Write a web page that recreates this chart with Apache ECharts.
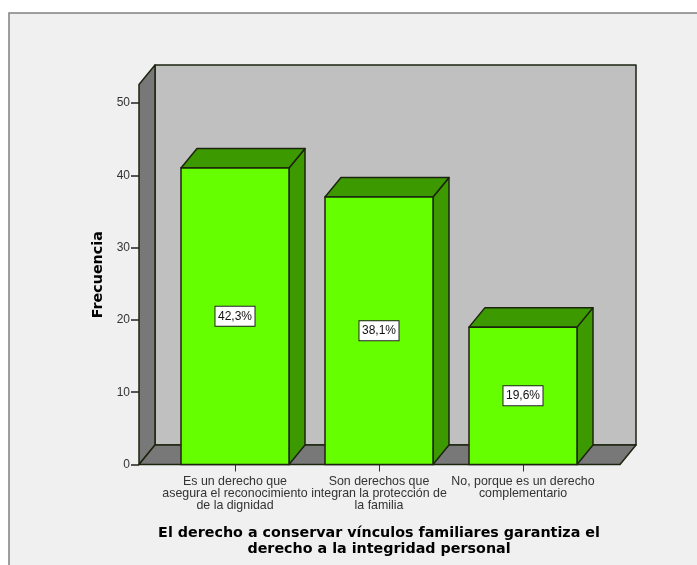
<!DOCTYPE html>
<html><head><meta charset="utf-8">
<style>html,body{margin:0;padding:0;background:#fff}#c{width:697px;height:565px}</style>
<script src="https://cdn.jsdelivr.net/npm/echarts@6/dist/echarts.min.js"></script>
</head><body><div id="c"></div>
<script>
const categories = ['Es un derecho que\nasegura el reconocimiento\nde la dignidad','Son derechos que\nintegran la protección de\nla familia','No, porque es un derecho\ncomplementario'];
const frequencies = [41,37,19];
const percentLabels = ['42,3%','38,1%','19,6%'];
const yTicks = {min:0,max:50,interval:10};
const xTitle = 'El derecho a conservar vínculos familiares garantiza el\nderecho a la integridad personal';
const yTitle = 'Frecuencia';

const EDGE='#1c2410', DX=16, DY=-19.5;
const chart = echarts.init(document.getElementById('c'),null,{renderer:'canvas'});
function poly(pts,fill,z){return {type:'polygon',z2:z||0,shape:{points:pts},style:{fill:fill,stroke:EDGE,lineWidth:1.5,lineJoin:'round'}};}
chart.setOption({
  animation:false,
  backgroundColor:'#ffffff',
  graphic:[{type:'rect',z:-10,shape:{x:9,y:13,width:700,height:570},style:{fill:'#f0f0f0',stroke:'#808080',lineWidth:1.5}}],
  grid:{left:163,width:432,top:103,height:361.5},
  xAxis:{type:'category',data:categories,
    axisLine:{show:false},
    axisTick:{show:true,alignWithLabel:true,length:7,lineStyle:{color:'#333',width:1}},
    axisLabel:{interval:0,hideOverlap:false,margin:11,color:'#333',fontFamily:'Liberation Sans',fontSize:12.4,lineHeight:12},
    name:xTitle,nameLocation:'middle',nameGap:61,
    nameTextStyle:{fontFamily:'DejaVu Sans',fontWeight:'bold',fontSize:14.3,color:'#000',lineHeight:16}},
  yAxis:{type:'value',min:yTicks.min,max:yTicks.max,interval:yTicks.interval,offset:24,
    splitLine:{show:false},
    axisLine:{show:false},
    axisTick:{show:true,length:8,lineStyle:{color:'#222',width:1.5}},
    axisLabel:{margin:9,color:'#333',fontFamily:'Liberation Sans',fontSize:12,padding:[3,0,0,0]},
    name:yTitle,nameLocation:'middle',nameGap:24,
    nameTextStyle:{fontFamily:'DejaVu Sans',fontWeight:'bold',fontSize:14.3,color:'#000',padding:[0,0,0,18]}},
  series:[
   {type:'custom',z:1,silent:true,clip:false,data:[0],
    renderItem:function(p,api){
      const o=api.coord([0,0]);const band=api.size([1,0])[0];
      const x0=o[0]-band/2-24, y0=o[1], w=481, topY=84.5-y0;
      return {type:'group',children:[
        poly([[x0+DX,y0+DY],[x0+DX+w,y0+DY],[x0+DX+w,y0+topY+DY],[x0+DX,y0+topY+DY]],'#c0c0c0'),
        poly([[x0,y0],[x0+DX,y0+DY],[x0+DX,y0+topY+DY],[x0,y0+topY]],'#787878'),
        poly([[x0,y0],[x0+w,y0],[x0+w+DX,y0+DY],[x0+DX,y0+DY]],'#787878')
      ]};
    }},
   {type:'custom',z:2,silent:true,clip:false,data:frequencies.map((v,i)=>[i,v]),encode:{x:0,y:1},
    renderItem:function(p,api){
      const i=api.value(0),v=api.value(1);
      const c=api.coord([i,v]),b=api.coord([i,0]);const w=api.size([1,0])[0]*0.75;
      const l=c[0]-w/2,r=c[0]+w/2,t=c[1],bt=b[1];
      return {type:'group',children:[
        poly([[r,bt],[r+DX,bt+DY],[r+DX,t+DY],[r,t]],'#3d9900'),
        poly([[l,t],[l+DX,t+DY],[r+DX,t+DY],[r,t]],'#3d9900'),
        {type:'rect',shape:{x:l,y:t,width:w,height:bt-t},style:{fill:'#66ff00',stroke:EDGE,lineWidth:1.5}},
        {type:'text',x:c[0],y:(t+bt)/2,style:{text:percentLabels[i],align:'center',verticalAlign:'middle',
          fill:'#111',fontFamily:'Liberation Sans',fontSize:12,backgroundColor:'#fff',borderColor:'#222',borderWidth:1,padding:[4,2.5,3,2.5]}}
      ]};
    }}
  ]
});
</script></body></html>
